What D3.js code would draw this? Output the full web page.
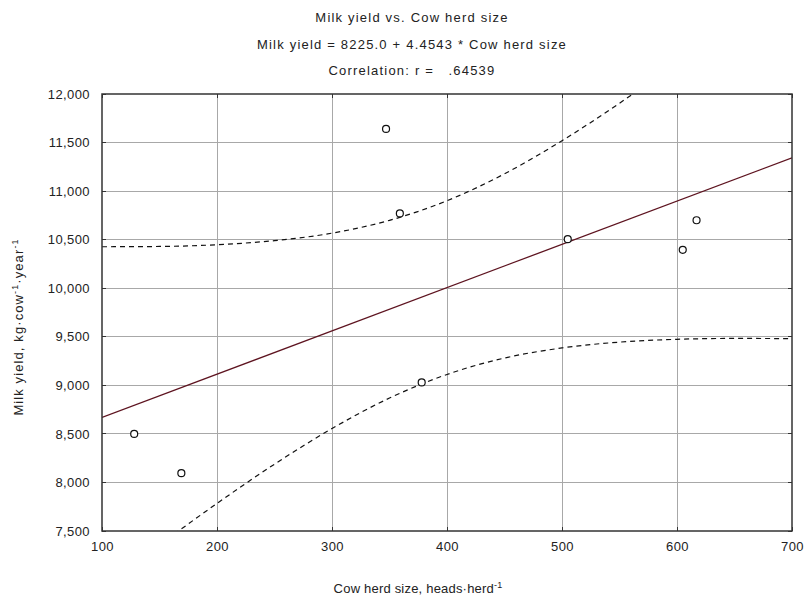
<!DOCTYPE html>
<html><head><meta charset="utf-8">
<script src="https://cdn.jsdelivr.net/npm/d3@7"></script>
<style>
html,body{margin:0;padding:0;background:#fff;}
svg{display:block;font-family:"Liberation Sans",Arial,sans-serif;}
</style></head>
<body><svg id="c" width="806" height="597"></svg>
<script>
// Data
const herdSize = [128, 169, 347, 359, 378, 505, 605, 617];
const milkYield = [8500, 8095, 11640, 10770, 9030, 10505, 10395, 10700];
// regression line end points (Milk yield = 8225.0 + 4.4543 * herd size)
const fitX = [100, 700];
const fitY = [8670, 11343];
// 95% confidence band
const bandX = [100, 150, 200, 250, 300, 350, 400, 450, 500, 550, 600, 650, 700];
const bandUpper = [10427, 10430, 10448, 10490, 10567, 10699, 10901, 11178, 11519, 11905, 12322, 12757, 13205];
const bandLower = [6913, 7356, 7784, 8188, 8555, 8869, 9112, 9281, 9385, 9445, 9474, 9483, 9481];
const xTicks = [100, 200, 300, 400, 500, 600, 700];
const yTicks = [7500, 8000, 8500, 9000, 9500, 10000, 10500, 11000, 11500, 12000];
const titleLines = ["Milk yield vs. Cow herd size", "Milk yield = 8225.0 + 4.4543 * Cow herd size", "Correlation: r =   .64539"];

const svg = d3.select("#c");
const L = 102, R = 792, T = 94, B = 531;
const x = d3.scaleLinear().domain([100, 700]).range([L, R]);
const y = d3.scaleLinear().domain([7500, 12000]).range([B, T]);

const defs = svg.append("defs");
defs.append("clipPath").attr("id", "clip").append("rect")
  .attr("x", L).attr("y", T).attr("width", R - L).attr("height", B - T);

// grid
svg.append("g").selectAll("line").data(xTicks.slice(1, -1)).join("line")
  .attr("x1", d => x(d)).attr("x2", d => x(d)).attr("y1", T).attr("y2", B)
  .attr("stroke", "#a8a8a8").attr("stroke-width", 1).attr("shape-rendering", "crispEdges");
svg.append("g").selectAll("line").data(yTicks.slice(1, -1)).join("line")
  .attr("y1", d => y(d)).attr("y2", d => y(d)).attr("x1", L).attr("x2", R)
  .attr("stroke", "#a8a8a8").attr("stroke-width", 1).attr("shape-rendering", "crispEdges");

// axes (ticks inside, labels outside)
const fs = "13px";
const ax = svg.append("g").attr("transform", `translate(0,${B})`)
  .call(d3.axisBottom(x).tickValues(xTicks).tickSize(0).tickPadding(11).tickFormat(d3.format("d")));
const ay = svg.append("g").attr("transform", `translate(${L},0)`)
  .call(d3.axisLeft(y).tickValues(yTicks).tickSize(0).tickPadding(12).tickFormat(d3.format(",")));
[ax, ay].forEach(g => {
  g.select(".domain").remove();
  g.selectAll("text").attr("font-size", fs).attr("fill", "#222")
    .attr("letter-spacing", "0.4px").attr("font-family", "Liberation Sans, Arial, sans-serif");
});
// small inside ticks on all sides
const tk = svg.append("g").attr("stroke", "#333").attr("stroke-width", 1).attr("shape-rendering", "crispEdges");
yTicks.forEach(d => {
  tk.append("line").attr("x1", L).attr("x2", L + 4).attr("y1", y(d)).attr("y2", y(d));
  tk.append("line").attr("x1", R - 4).attr("x2", R).attr("y1", y(d)).attr("y2", y(d));
});
xTicks.forEach(d => {
  tk.append("line").attr("x1", x(d)).attr("x2", x(d)).attr("y1", B).attr("y2", B - 4);
  tk.append("line").attr("x1", x(d)).attr("x2", x(d)).attr("y1", T).attr("y2", T + 4);
});

const plot = svg.append("g").attr("clip-path", "url(#clip)");
const band = (vals) => d3.line().x((d, i) => x(bandX[i])).y(d => y(d)).curve(d3.curveMonotoneX)(vals);
plot.append("path").attr("d", band(bandUpper)).attr("fill", "none")
  .attr("stroke", "#111").attr("stroke-width", 1.2).attr("stroke-dasharray", "5,4");
plot.append("path").attr("d", band(bandLower)).attr("fill", "none")
  .attr("stroke", "#111").attr("stroke-width", 1.2).attr("stroke-dasharray", "5,4");
plot.append("path").attr("d", d3.line().x((d, i) => x(fitX[i])).y(d => y(d))(fitY))
  .attr("fill", "none").attr("stroke", "#5e1420").attr("stroke-width", 1.3);

svg.append("g").selectAll("circle").data(herdSize).join("circle")
  .attr("cx", d => x(d)).attr("cy", (d, i) => y(milkYield[i])).attr("r", 3.5)
  .attr("fill", "#fff").attr("stroke", "#111").attr("stroke-width", 1.2);

// frame
svg.append("rect").attr("x", L).attr("y", T).attr("width", R - L).attr("height", B - T)
  .attr("fill", "none").attr("stroke", "#333").attr("stroke-width", 1.5);

// titles
svg.append("g").selectAll("text").data(titleLines).join("text")
  .attr("x", 412).attr("y", (d, i) => 22 + i * 26.5).attr("text-anchor", "middle")
  .attr("font-size", fs).attr("fill", "#222").attr("letter-spacing", "1.2px").attr("xml:space", "preserve")
  .style("white-space", "pre").text(d => d);

const xt = svg.append("text").attr("x", 418).attr("y", 593).attr("text-anchor", "middle")
  .attr("font-size", fs).attr("fill", "#222").attr("letter-spacing", "0.2px");
xt.append("tspan").text("Cow herd size, heads·herd");
xt.append("tspan").attr("dy", -5).attr("font-size", "9px").text("-1");

const yt = svg.append("text").attr("transform", "translate(23,327) rotate(-90)")
  .attr("text-anchor", "middle").attr("font-size", fs).attr("fill", "#222").attr("letter-spacing", "1.1px");
yt.append("tspan").text("Milk yield, kg·cow");
yt.append("tspan").attr("dy", -5).attr("font-size", "9px").text("-1");
yt.append("tspan").attr("dy", 5).text("·year");
yt.append("tspan").attr("dy", -5).attr("font-size", "9px").text("-1");
</script></body></html>
